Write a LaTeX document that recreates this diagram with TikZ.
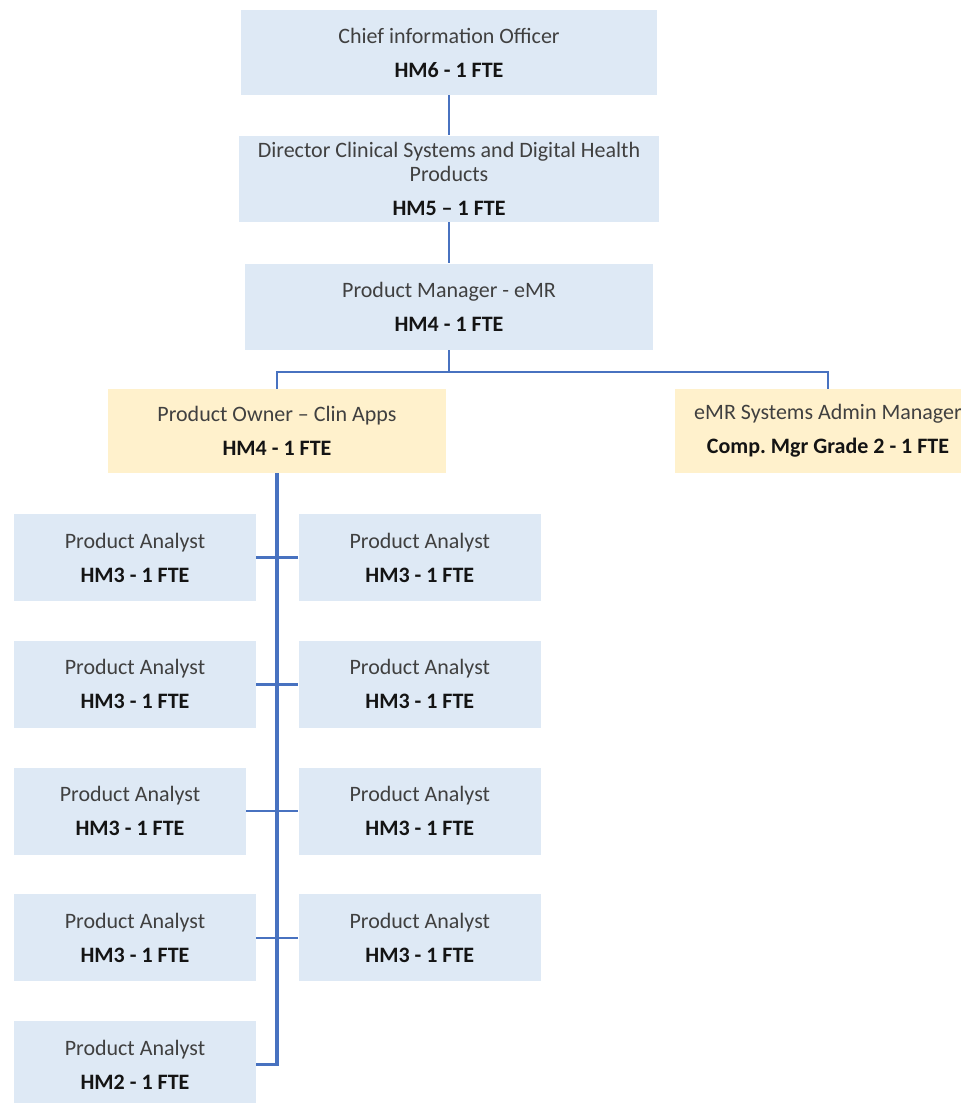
\documentclass[tikz,border=0pt]{standalone}
\usepackage{fontspec}
\setmainfont{Carlito}
\usetikzlibrary{positioning}
\definecolor{boxblue}{RGB}{222,233,245}
\definecolor{boxyellow}{RGB}{255,241,204}
\definecolor{linkblue}{RGB}{72,114,192}
\definecolor{titlegray}{RGB}{64,64,64}
\definecolor{gradeblack}{RGB}{20,20,20}

\newcommand{\roletext}[2]{#1\\[5pt]\textcolor{gradeblack}{\textbf{#2}}}

\begin{document}
\begin{tikzpicture}[
    node distance=20pt,
    post/.style={rectangle, fill=boxblue, text=titlegray, align=center, inner sep=2pt, font=\fontsize{11}{12}\selectfont},
    lead/.style={post, fill=boxyellow, minimum height=42pt},
    analyst/.style={post, minimum width=121pt, minimum height=43.5pt},
    link/.style={draw=linkblue, line width=1.2pt}
]
\useasboundingbox (0,0) rectangle (480.5pt,-551.5pt);

% management chain
\node[post, minimum width=208pt, minimum height=42.5pt] (cio) at (224.5pt,-26.25pt) {\roletext{Chief information Officer}{HM6 - 1 FTE}};
\node[post, minimum width=210pt, minimum height=43pt, below=20pt of cio] (director) {\roletext{Director Clinical Systems and Digital Health\\Products}{HM5 -- 1 FTE}};
\node[post, minimum width=204pt, minimum height=43pt, below=20.5pt of director] (pm) {\roletext{Product Manager - eMR}{HM4 - 1 FTE}};
\node[lead, minimum width=169pt] (owner) at (138.5pt,-215.5pt) {\roletext{Product Owner -- Clin Apps}{HM4 - 1 FTE}};
\node[lead, minimum width=153pt] (admin) at (414pt,-215.5pt) {\roletext{eMR Systems Admin Manager}{Comp.\ Mgr Grade 2 - 1 FTE}};

% analysts
\node[analyst] (pa1) at (67.5pt,-278.75pt) {\roletext{Product Analyst}{HM3 - 1 FTE}};
\node[analyst, below=19.5pt of pa1] (pa2) {\roletext{Product Analyst}{HM3 - 1 FTE}};
\node[analyst, minimum width=116pt, below=19.5pt of pa2.south west, anchor=north west] (pa3) {\roletext{Product Analyst}{HM3 - 1 FTE}};
\node[analyst, below=19.5pt of pa3.south west, anchor=north west] (pa4) {\roletext{Product Analyst}{HM3 - 1 FTE}};
\node[analyst, below=19.5pt of pa4] (pa5) {\roletext{Product Analyst}{HM2 - 1 FTE}};
\node[analyst, right=21pt of pa1] (pb1) {\roletext{Product Analyst}{HM3 - 1 FTE}};
\node[analyst, below=19.5pt of pb1] (pb2) {\roletext{Product Analyst}{HM3 - 1 FTE}};
\node[analyst, below=19.5pt of pb2] (pb3) {\roletext{Product Analyst}{HM3 - 1 FTE}};
\node[analyst, below=19.5pt of pb3] (pb4) {\roletext{Product Analyst}{HM3 - 1 FTE}};

% reporting lines
\draw[link] (cio) -- (director);
\draw[link] (director) -- (pm);
\coordinate[below=11pt of pm.south] (bus);
\draw[link] (pm.south) -- (bus) -| (owner.north);
\draw[link] (bus) -| (admin.north);
\draw[link, line width=1.6pt] (owner.south) |- (pa5.east);
\draw[link] (pa1.east) -- (pb1.west);
\draw[link] (pa2.east) -- (pb2.west);
\draw[link] (pa3.east) -- (pb3.west);
\draw[link] (pa4.east) -- (pb4.west);

\end{tikzpicture}
\end{document}
